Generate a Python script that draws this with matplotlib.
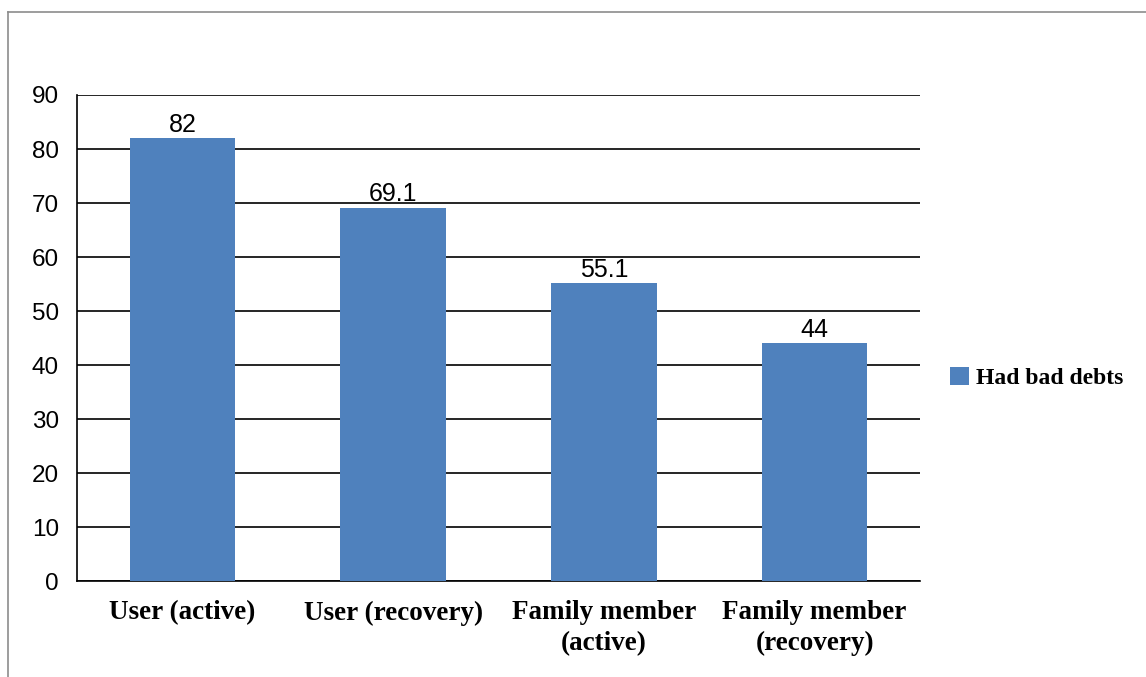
import matplotlib.pyplot as plt
from matplotlib.lines import Line2D

# data
categories = ["User (active)", "User (recovery)", "Family member\n(active)", "Family member\n(recovery)"]
values = [82, 69.1, 55.1, 44]
value_labels = ["82", "69.1", "55.1", "44"]
series_name = "Had bad debts"

bar_color = "#4F81BD"
serif = ["Liberation Serif", "DejaVu Serif"]
sans = ["Liberation Sans", "DejaVu Sans"]

fig = plt.figure(figsize=(11.46, 6.77), dpi=100)
ax = fig.add_axes([77 / 1146, 1 - 581 / 677, 843 / 1146, 486 / 677])

x = list(range(len(categories)))
bars = ax.bar(x, values, width=0.5, color=bar_color, zorder=3, label=series_name)

for xi, v, lab in zip(x, values, value_labels):
    ax.text(xi, v + 0.3, lab, ha="center", va="bottom", fontsize=18, family=sans, color="black")

ax.set_xlim(-0.5, 3.5)
ax.set_ylim(0, 90)
ax.set_yticks(range(0, 91, 10))
ax.yaxis.grid(True, color="black", linewidth=1.2, zorder=0)
ax.set_axisbelow(True)

for lbl in ax.get_yticklabels():
    lbl.set_family(sans)
    lbl.set_fontsize(17.5)
ax.tick_params(axis="y", length=0, pad=13)
ax.tick_params(axis="x", length=0, pad=14)
ax.set_xticks(x)
ax.set_xticklabels(categories, family=serif, fontsize=19.5, fontweight="bold", linespacing=1.3)

ax.spines["top"].set_visible(False)
ax.spines["right"].set_visible(False)
ax.spines["left"].set_color("black")
ax.spines["left"].set_linewidth(1.2)
ax.spines["bottom"].set_color("black")
ax.spines["bottom"].set_linewidth(1.2)

ax.legend(handles=[bars], labels=[series_name], loc="center left",
          bbox_to_anchor=(929 / 1146, 1 - 378 / 677), bbox_transform=fig.transFigure,
          frameon=False, handlelength=0.8, handleheight=0.8, handletextpad=0.3,
          prop={"family": serif, "size": 17, "weight": "bold"})

# outer chart border
fig.add_artist(Line2D([8 / 1146, 8 / 1146], [0, 1 - 12 / 677], transform=fig.transFigure, color="#8c8c8c", linewidth=1.2))
fig.add_artist(Line2D([8 / 1146, 1], [1 - 12 / 677, 1 - 12 / 677], transform=fig.transFigure, color="#8c8c8c", linewidth=1.2))

fig.savefig("out.png", dpi=100)
